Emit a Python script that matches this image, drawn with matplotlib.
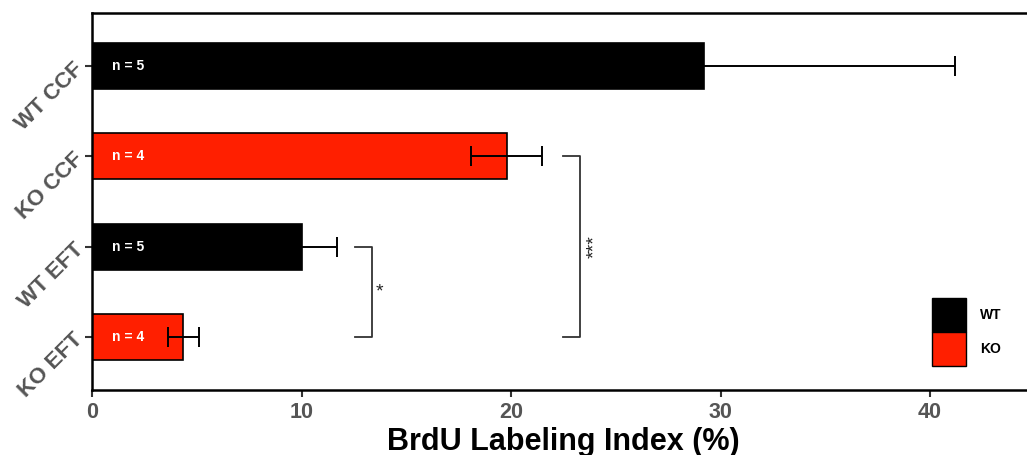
import matplotlib.pyplot as plt
from matplotlib.patches import Patch

groups = ['WT CCF', 'KO CCF', 'WT EFT', 'KO EFT']
means = [29.2, 19.8, 10.0, 4.35]
errs = [12.0, 1.7, 1.7, 0.74]
n_labels = ['n = 5', 'n = 4', 'n = 5', 'n = 4']
colors = ['#000000', '#ff1f00', '#000000', '#ff1f00']
xticks = [0, 10, 20, 30, 40]

plt.rcParams['font.family'] = ['Liberation Sans', 'DejaVu Sans']

fig = plt.figure(figsize=(10.27, 4.55), dpi=100)
ax = fig.add_axes([0.0896, 0.1429, 0.918, 0.8286])

ypos = list(range(len(groups)))
ax.barh(ypos, means, height=0.51, color=colors, edgecolor='black', linewidth=1.2,
        xerr=errs, error_kw=dict(ecolor='black', elinewidth=1.4, capsize=7.5, capthick=1.4),
        zorder=2)

for y, t in zip(ypos, n_labels):
    ax.text(0.95, y, t, color='white', fontsize=10, fontweight='bold', va='center', ha='left',
            zorder=3)

# significance brackets
def bracket(x0, x1, y0, y1, label, rot, dx):
    ax.plot([x0, x1, x1, x0], [y0, y0, y1, y1], color='#333333', lw=1.3, zorder=3)
    ax.text(x1 + dx, (y0 + y1) / 2, label, rotation=rot, ha='left', va='center',
            fontsize=14, color='#222222')

bracket(12.55, 13.35, 2.0, 3.0, '*', 0, 0.2)
bracket(22.5, 23.3, 1.0, 3.0, '***', 90, 0.3)

ax.set_xlim(0, 45)
ax.set_ylim(3.59, -0.59)
ax.set_xticks(xticks)
ax.set_yticks(ypos)
ax.set_yticklabels(groups, rotation=45, ha='right', va='center', rotation_mode='anchor')
for lab in ax.get_yticklabels() + ax.get_xticklabels():
    lab.set_fontweight('bold')
    lab.set_color('#555555')
for lab in ax.get_yticklabels():
    lab.set_fontsize(16)
for lab in ax.get_xticklabels():
    lab.set_fontsize(15.5)

ax.tick_params(axis='both', width=1.5, length=5, color='#333333')
for s in ['left', 'bottom', 'top', 'right']:
    ax.spines[s].set_linewidth(1.8)
ax.set_xlabel('BrdU Labeling Index (%)', fontsize=22, fontweight='bold', labelpad=3)

handles = [Patch(facecolor='#000000', edgecolor='black', label='WT'),
           Patch(facecolor='#ff1f00', edgecolor='black', label='KO')]
ax.legend(handles=handles, loc='lower left', bbox_to_anchor=(0.891, 0.0637), frameon=False,
          handlelength=2.46, handleheight=3.4, handletextpad=1.0, labelspacing=0.0,
          borderpad=0, borderaxespad=0,
          prop={'weight': 'bold', 'size': 10})

fig.savefig('out.png', dpi=100)
